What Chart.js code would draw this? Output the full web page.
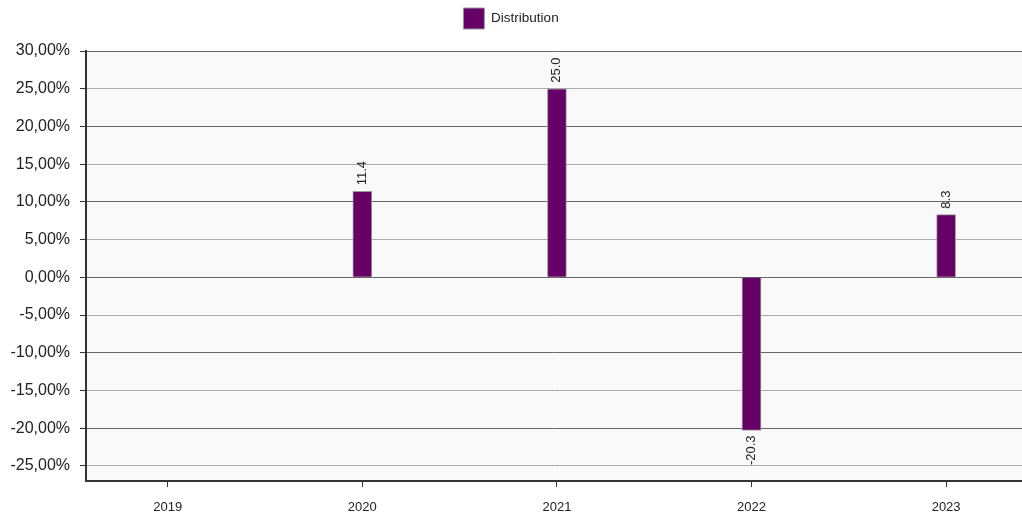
<!DOCTYPE html>
<html>
<head>
<meta charset="utf-8">
<script src="https://cdn.jsdelivr.net/npm/chart.js@4.4.0/dist/chart.umd.min.js"></script>
<style>
    html, body { margin: 0; padding: 0; background: #fff; }
    #wrap { width: 1022px; height: 513px; }
</style>
</head>
<body>
<div id="wrap"><canvas id="distChart" width="1022" height="513"></canvas></div>
<script>
// chart data
var years = ["2019", "2020", "2021", "2022", "2023"];
var distribution = [0, 11.4, 25.0, -20.3, 8.3];
var yTicks = [30, 25, 20, 15, 10, 5, 0, -5, -10, -15, -20, -25];
var seriesName = "Distribution";

var fontFam = "'Liberation Sans', Arial, sans-serif";

// light grey plot background
var plotBg = {
    id: "plotBg",
    beforeDraw: function(chart){
        var a = chart.chartArea;
        var ctx = chart.ctx;
        ctx.save();
        ctx.fillStyle = "#f9f9f9";
        ctx.fillRect(a.left, a.top, a.right - a.left, a.bottom - a.top);
        ctx.restore();
    }
};

// rotated value labels at the end of each bar
var barLabels = {
    id: "barLabels",
    afterDatasetsDraw: function(chart){
        var ctx = chart.ctx;
        var meta = chart.getDatasetMeta(0);
        meta.data.forEach(function(bar, i){
            var v = distribution[i];
            if (v === 0) return;
            ctx.save();
            ctx.font = "13px " + fontFam;
            ctx.fillStyle = "#222";
            ctx.textBaseline = "middle";
            if (v > 0) {
                ctx.translate(bar.x, bar.y - 6);
                ctx.rotate(-Math.PI / 2);
                ctx.textAlign = "left";
            } else {
                ctx.translate(bar.x, bar.y + 5);
                ctx.rotate(-Math.PI / 2);
                ctx.textAlign = "right";
            }
            ctx.fillText(v.toFixed(1), 0, 0);
            ctx.restore();
        });
    }
};

var points = [];
for (let i in years) {
    points.push({x: Number(i), y: distribution[i]});
}

new Chart(document.getElementById("distChart"), {
    type: "bar",
    data: {
        datasets: [
            {
                label: seriesName,
                data: points,
                backgroundColor: "#660066",
                borderColor: "#999999",
                borderWidth: 1,
                barThickness: 19
            }
        ]
    },
    options: {
        responsive: false,
        animation: false,
        layout: { padding: 0 },
        plugins: {
            tooltip: { enabled: false },
            legend: {
                display: true,
                position: "top",
                labels: {
                    boxWidth: 21,
                    boxHeight: 21,
                    padding: 8,
                    color: "#222",
                    font: { family: fontFam, size: 13.5 }
                }
            },
            // empty title used as a spacer under the legend
            title: {
                display: true,
                text: "",
                weight: 500,
                padding: 0,
                font: { size: 10, lineHeight: 1.2 }
            }
        },
        scales: {
            x: {
                type: "linear",
                offset: false,
                min: -0.42,
                max: 4.39,
                afterBuildTicks: function(scale){
                    scale.ticks = years.map(function(y, i){ return {value: i}; });
                },
                afterFit: function(scale){ scale.height = 32; },
                grid: {
                    offset: false,
                    drawOnChartArea: false,
                    drawTicks: true,
                    tickLength: 6,
                    tickColor: "#333"
                },
                border: { color: "#333", width: 2 },
                ticks: {
                    padding: 13,
                    color: "#222",
                    font: { family: fontFam, size: 13 },
                    maxRotation: 0,
                    callback: function(value){ return years[value]; }
                }
            },
            y: {
                min: -27,
                max: 30,
                afterBuildTicks: function(scale){
                    scale.ticks = yTicks.map(function(v){ return {value: v}; });
                },
                afterFit: function(scale){ scale.width = 86; },
                grid: {
                    color: function(c){
                        return (c.tick && c.tick.value % 10 === 0) ? "#666" : "#aaa";
                    },
                    tickColor: "#333",
                    tickLength: 6
                },
                border: { color: "#333", width: 2 },
                ticks: {
                    padding: 10,
                    color: "#222",
                    font: { family: fontFam, size: 16 },
                    callback: function(value){
                        return value.toFixed(2).replace(".", ",") + "%";
                    }
                }
            }
        }
    },
    plugins: [plotBg, barLabels]
});
</script>
</body>
</html>
